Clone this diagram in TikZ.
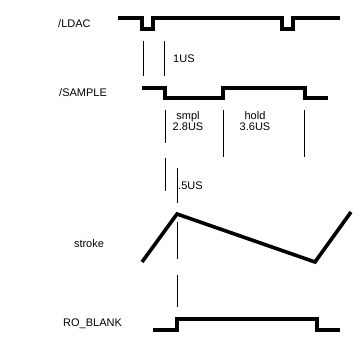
\documentclass[tikz,border=0pt]{standalone}
\usepackage{fontspec}
\setmainfont{Liberation Sans}
\usetikzlibrary{positioning}
\tikzset{
  sig/.style={font=\fontsize{11}{11}\selectfont, inner sep=0pt, anchor=west},
  lbl/.style={font=\fontsize{11}{11}\selectfont, inner sep=0pt, align=center},
  wave/.style={line width=3.6pt, line join=miter, line cap=butt},
  tick/.style={line width=0.8pt},
}
\begin{document}
\begin{tikzpicture}[x=1pt, y=-1pt]
    \useasboundingbox (0,0) rectangle (361,339);
    % signal names
    \node[sig] (ldac)    at (58,24)  {/LDAC};
    \node[sig] (sample)  at (59,93)  {/SAMPLE};
    \node[lbl] (stroke)  at (89,244) {stroke};
    \node[sig] (roblank) at (63,324) {RO\_BLANK};
    % waveforms
    \draw[wave] (118,18) -- (142,18) -- (142,29) -- (153,29) -- (153,18)
                -- (282,18) -- (282,29) -- (293,29) -- (293,18) -- (340,18);
    \draw[wave] (142,88) -- (165,88) -- (165,98) -- (223,98) -- (223,88)
                -- (305,88) -- (305,98) -- (328,98);
    \draw[wave] (142,262) -- (177,214) -- (315,262) -- (351,212);
    \draw[wave] (153,330) -- (177,330) -- (177,319) -- (317,319)
                -- (317,330) -- (340,330);
    % timing marks
    \draw[tick] (143,41) -- (143,76);
    \draw[tick] (164,41) -- (164,76);
    \node[sig] (t1) at (173,59) {1US};
    \draw[tick] (165,110) -- (165,143);
    \draw[tick] (223,110) -- (223,157);
    \draw[tick] (304,110) -- (304,157);
    \node[lbl] (smpl) at (188,121) {smpl\\2.8US};
    \node[lbl] (hold) at (255,121) {hold\\3.6US};
    \draw[tick] (165,158) -- (165,191);
    \draw[tick] (177,168) -- (177,203);
    \node[sig] (t5) at (178,186) {.5US};
    \draw[tick] (177,222) -- (177,259);
    \draw[tick] (177,275) -- (177,307);
\end{tikzpicture}
\end{document}
